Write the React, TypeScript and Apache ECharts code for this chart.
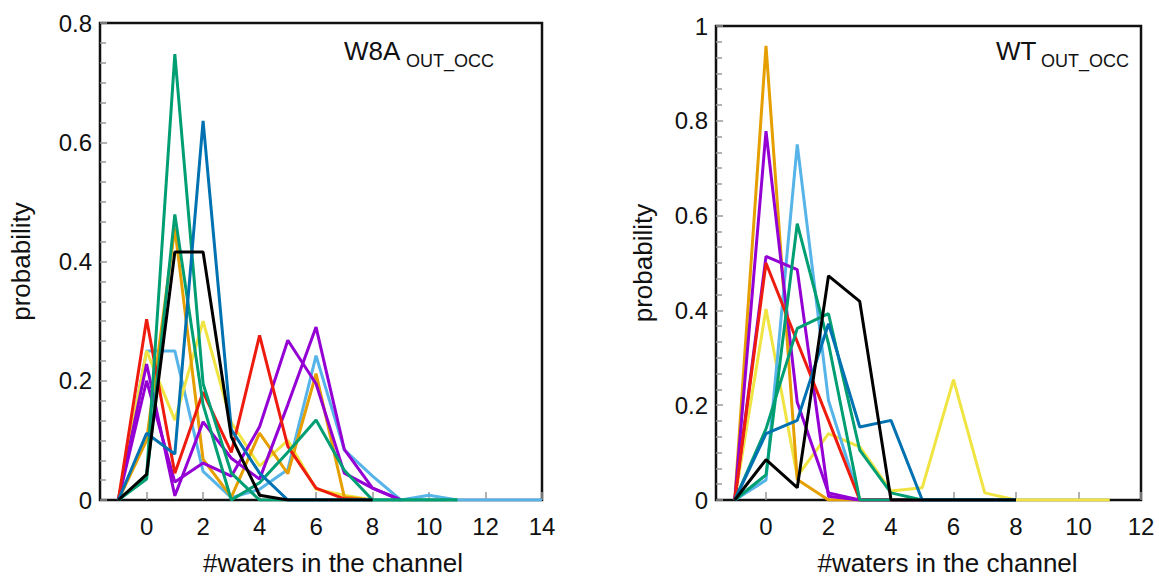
import React, { useEffect, useRef } from "react";
import * as echarts from "echarts";

// x positions (#waters) for each sample, starting at -1
const X_LEFT = [-1, 0, 1, 2, 3, 4, 5, 6, 7, 8, 9, 10, 11, 12, 13, 14];
const X_RIGHT = [-1, 0, 1, 2, 3, 4, 5, 6, 7, 8, 9, 10, 11];

const LEFT_TICKS = [0, 2, 4, 6, 8, 10, 12, 14];
const RIGHT_TICKS = [0, 2, 4, 6, 8, 10, 12];

// W8A_OUT_OCC
const lSky = [0, 0.25, 0.25, 0.048, 0.004, 0.018, 0.051, 0.242, 0.084, 0.04, 0, 0.008, 0, 0, 0, 0];
const lYellow = [0, 0.25, 0.134, 0.3, 0.13, 0.057, 0.1, 0.018, 0.008, 0];
const lOrange = [0, 0.1, 0.456, 0.068, 0.005, 0.112, 0.044, 0.212, 0.005, 0];
const lPurpleA = [0, 0.228, 0.007, 0.131, 0.07, 0.035, 0.16, 0.29, 0.085, 0.02, 0];
const lPurpleB = [0, 0.2, 0.03, 0.062, 0.04, 0.123, 0.268, 0.195, 0.045, 0.02, 0];
const lRed = [0, 0.303, 0.045, 0.181, 0.08, 0.276, 0.09, 0.02, 0.002, 0];
const lGreenA = [0, 0.04, 0.748, 0.195, 0.045, 0, 0, 0, 0, 0, 0, 0, 0];
const lGreenB = [0, 0.035, 0.479, 0.16, 0, 0.029, 0.08, 0.134, 0.05, 0, 0, 0, 0];
const lBlue = [0, 0.112, 0.077, 0.636, 0.118, 0.045, 0, 0, 0, 0];
const lBlack = [0, 0.043, 0.416, 0.416, 0.106, 0.008, 0, 0, 0, 0];

// WT_OUT_OCC
const rYellow = [0, 0.403, 0.05, 0.14, 0.112, 0.019, 0.026, 0.254, 0.015, 0, 0, 0, 0];
const rOrange = [0, 0.958, 0.043, 0, 0, 0, 0, 0, 0, 0];
const rSky = [0, 0.042, 0.75, 0.21, 0, 0, 0, 0, 0, 0];
const rPurpleA = [0, 0.778, 0.206, 0.015, 0, 0, 0, 0, 0, 0];
const rPurpleB = [0, 0.514, 0.486, 0.008, 0, 0, 0, 0, 0, 0];
const rRed = [0, 0.5, 0.334, 0.168, 0, 0, 0, 0, 0, 0];
const rGreenA = [0, 0.053, 0.583, 0.33, 0, 0, 0, 0, 0, 0];
const rGreenB = [0, 0.15, 0.362, 0.393, 0.105, 0.015, 0, 0, 0, 0];
const rBlue = [0, 0.14, 0.168, 0.372, 0.154, 0.168, 0, 0, 0, 0];
const rBlack = [0, 0.085, 0.026, 0.473, 0.419, 0, 0, 0, 0, 0];

const C = {
  sky: "#56B4E9",
  yellow: "#F0E442",
  orange: "#E69F00",
  purple: "#9400D3",
  red: "#EE1C0E",
  green: "#009E73",
  blue: "#0072B2",
  black: "#000000",
};

const FONT = "'Liberation Sans', Arial, Helvetica, sans-serif";

function pairs(xs: number[], ys: number[]) {
  return ys.map((y, i) => [xs[i], y]);
}

function line(name: string, color: string, xs: number[], ys: number[], idx: number) {
  return {
    name,
    type: "line",
    xAxisIndex: idx,
    yAxisIndex: idx,
    data: pairs(xs, ys),
    symbol: "none",
    showSymbol: false,
    lineStyle: { color, width: 3 },
    itemStyle: { color },
    emphasis: { disabled: true },
    clip: true,
  };
}

function xAxis(idx: number, min: number, max: number, ticks: number[], shift: number) {
  return {
    type: "value",
    gridIndex: idx,
    min,
    max,
    name: "#waters in the channel",
    nameLocation: "middle",
    nameGap: 50,
    nameTextStyle: {
      fontFamily: FONT,
      fontSize: 26,
      color: "#111",
      padding: [0, 0, 0, shift],
    },
    axisLine: { show: false, onZero: false },
    axisTick: {
      show: true,
      inside: true,
      length: 8,
      customValues: ticks,
      lineStyle: { color: "#999", width: 1.5 },
    },
    axisLabel: {
      customValues: ticks,
      fontFamily: FONT,
      fontSize: 24,
      color: "#111",
      margin: 14,
    },
    splitLine: { show: false },
  };
}

function yAxis(idx: number, max: number, gap: number) {
  return {
    type: "value",
    gridIndex: idx,
    min: 0,
    max,
    interval: 0.2,
    name: "probability",
    nameLocation: "middle",
    nameGap: gap,
    nameRotate: 90,
    nameTextStyle: { fontFamily: FONT, fontSize: 26, color: "#111" },
    axisLine: { show: false, onZero: false },
    axisTick: {
      show: true,
      inside: true,
      length: 7,
      lineStyle: { color: "#999", width: 1.5 },
    },
    minorTick: {
      show: true,
      splitNumber: 6,
      length: 6,
      lineStyle: { color: "#999", width: 1.5 },
    },
    axisLabel: {
      fontFamily: FONT,
      fontSize: 24,
      color: "#111",
      margin: 8,
      formatter: (v: number) => String(Math.round(v * 10) / 10),
    },
    splitLine: { show: false },
    minorSplitLine: { show: false },
  };
}

export default function App() {
  const ref = useRef<HTMLDivElement>(null);
  useEffect(() => {
    if (!ref.current) return;
    const chart = echarts.init(ref.current, undefined, { renderer: "svg" });
    const option = {
      animation: false,
      backgroundColor: "#ffffff",
      grid: [
        {
          left: 100, top: 23, width: 442, height: 481,
          show: true, borderColor: "#111", borderWidth: 2.5, backgroundColor: "transparent",
        },
        {
          left: 716, top: 26, width: 425, height: 481,
          show: true, borderColor: "#111", borderWidth: 2.5, backgroundColor: "transparent",
        },
      ],
      xAxis: [
        xAxis(0, -1.65, 14, LEFT_TICKS, 24),
        xAxis(1, -1.6, 12, RIGHT_TICKS, 38),
      ],
      yAxis: [yAxis(0, 0.8, 66), yAxis(1, 1, 60)],
      series: [
        line("W8A sky", C.sky, X_LEFT, lSky, 0),
        line("W8A yellow", C.yellow, X_LEFT, lYellow, 0),
        line("W8A orange", C.orange, X_LEFT, lOrange, 0),
        line("W8A purple A", C.purple, X_LEFT, lPurpleA, 0),
        line("W8A purple B", C.purple, X_LEFT, lPurpleB, 0),
        line("W8A red", C.red, X_LEFT, lRed, 0),
        line("W8A green A", C.green, X_LEFT, lGreenA, 0),
        line("W8A green B", C.green, X_LEFT, lGreenB, 0),
        line("W8A blue", C.blue, X_LEFT, lBlue, 0),
        line("W8A black", C.black, X_LEFT, lBlack, 0),
        line("WT yellow", C.yellow, X_RIGHT, rYellow, 1),
        line("WT orange", C.orange, X_RIGHT, rOrange, 1),
        line("WT sky", C.sky, X_RIGHT, rSky, 1),
        line("WT purple A", C.purple, X_RIGHT, rPurpleA, 1),
        line("WT purple B", C.purple, X_RIGHT, rPurpleB, 1),
        line("WT red", C.red, X_RIGHT, rRed, 1),
        line("WT green A", C.green, X_RIGHT, rGreenA, 1),
        line("WT green B", C.green, X_RIGHT, rGreenB, 1),
        line("WT blue", C.blue, X_RIGHT, rBlue, 1),
        line("WT black", C.black, X_RIGHT, rBlack, 1),
      ],
      graphic: [
        {
          type: "text", left: 344, top: 38, silent: true,
          style: { text: "W8A", font: `26px ${FONT}`, fill: "#111" },
        },
        {
          type: "text", left: 406, top: 52, silent: true,
          style: { text: "OUT_OCC", font: `18px ${FONT}`, fill: "#111" },
        },
        {
          type: "text", left: 996, top: 38, silent: true,
          style: { text: "WT", font: `26px ${FONT}`, fill: "#111" },
        },
        {
          type: "text", left: 1041, top: 52, silent: true,
          style: { text: "OUT_OCC", font: `18px ${FONT}`, fill: "#111" },
        },
      ],
    };
    chart.setOption(option as any);
    return () => chart.dispose();
  }, []);
  return (
    <div
      ref={ref}
      style={{ position: "fixed", left: 0, top: 0, width: 1159, height: 581, background: "#fff" }}
    />
  );
}
